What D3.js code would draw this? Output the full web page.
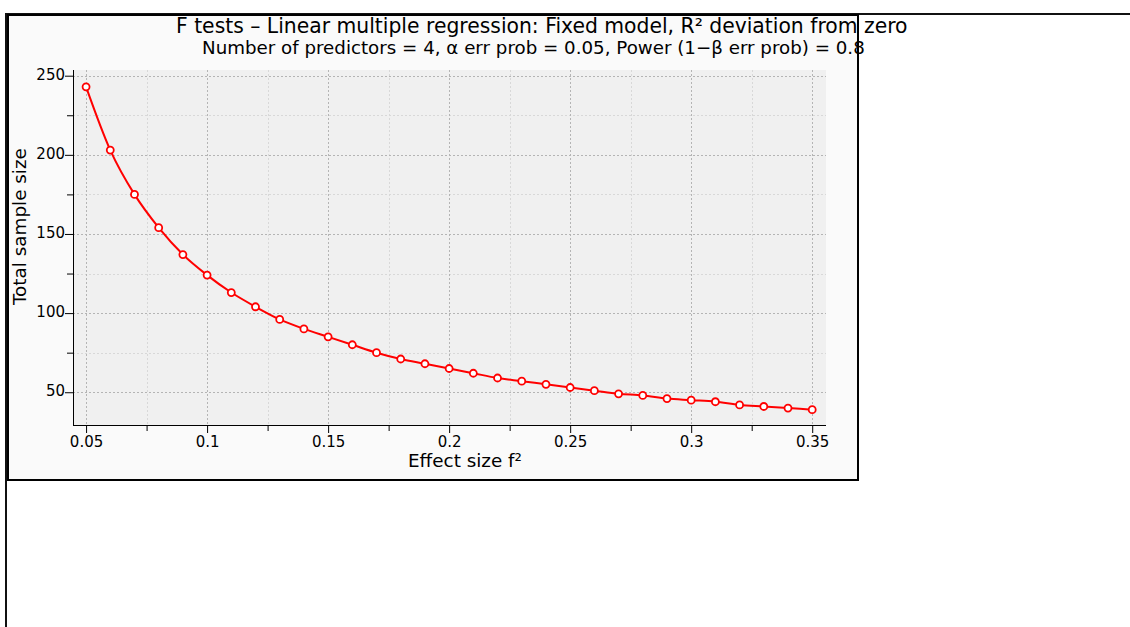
<!DOCTYPE html>
<html>
<head>
<meta charset="utf-8">
<script src="https://cdn.jsdelivr.net/npm/d3@7"></script>
<style>
  body { margin: 0; background: #fff; }
  text { font-family: "Lucida Grande", "DejaVu Sans", sans-serif; fill: #000; }
</style>
</head>
<body>
<div id="chart"></div>
<script>
var effectSizes = [0.05, 0.06, 0.07, 0.08, 0.09, 0.10, 0.11, 0.12, 0.13, 0.14,
                   0.15, 0.16, 0.17, 0.18, 0.19, 0.20, 0.21, 0.22, 0.23, 0.24,
                   0.25, 0.26, 0.27, 0.28, 0.29, 0.30, 0.31, 0.32, 0.33, 0.34, 0.35];
var sampleSizes = [243, 203, 175, 154, 137, 124, 113, 104, 96, 90,
                   85, 80, 75, 71, 68, 65, 62, 59, 57, 55,
                   53, 51, 49, 48, 46, 45, 44, 42, 41, 40, 39];

var xMajor = [0.05, 0.1, 0.15, 0.2, 0.25, 0.3, 0.35],
    xMinor = [0.075, 0.125, 0.175, 0.225, 0.275, 0.325];
var yMajor = [50, 100, 150, 200, 250],
    yMinor = [75, 125, 175, 225];

var titleText = 'F tests \u2013 Linear multiple regression: Fixed model, R\u00b2 deviation from zero',
    subtitleText = 'Number of predictors = 4, \u03b1 err prob = 0.05, Power (1\u2212\u03b2 err prob) = 0.8',
    xLabel = 'Effect size f\u00b2',
    yLabel = 'Total sample size';

var width = 1130,
    height = 627;

var plot = {left: 73, right: 826, top: 70, bottom: 425};

var svg = d3.select('#chart')
    .append('svg')
    .attr('width', width)
    .attr('height', height);

// outer frame (runs off the page)
svg.append('path')
    .attr('d', 'M 6 ' + height + ' V 14 H ' + width)
    .attr('fill', 'none')
    .attr('stroke', '#111')
    .attr('stroke-width', 2);

// chart box
svg.append('rect')
    .attr('x', 8)
    .attr('y', 15)
    .attr('width', 850)
    .attr('height', 465)
    .attr('fill', '#fafafa')
    .attr('stroke', '#000')
    .attr('stroke-width', 2);

var x = d3.scaleLinear()
    .domain([0.0446, 0.3557])
    .range([plot.left, plot.right]);

var y = d3.scaleLinear()
    .domain([29.3, 253.6])
    .range([plot.bottom, plot.top]);

// plot background
svg.append('rect')
    .attr('x', plot.left)
    .attr('y', plot.top)
    .attr('width', plot.right - plot.left)
    .attr('height', plot.bottom - plot.top)
    .attr('fill', '#f0f0f0');

// grid
var grid = svg.append('g');
function vGrid(vals, color) {
    grid.selectAll(null).data(vals).enter().append('line')
        .attr('x1', function (d) { return Math.round(x(d)) + 0.5; })
        .attr('x2', function (d) { return Math.round(x(d)) + 0.5; })
        .attr('y1', plot.top)
        .attr('y2', plot.bottom)
        .attr('stroke', color)
        .attr('stroke-dasharray', '2,2');
}
function hGrid(vals, color) {
    grid.selectAll(null).data(vals).enter().append('line')
        .attr('y1', function (d) { return Math.round(y(d)) + 0.5; })
        .attr('y2', function (d) { return Math.round(y(d)) + 0.5; })
        .attr('x1', plot.left)
        .attr('x2', plot.right)
        .attr('stroke', color)
        .attr('stroke-dasharray', '2,2');
}
vGrid(xMinor, '#d8d8d8');
hGrid(yMinor, '#d8d8d8');
vGrid(xMajor, '#b4b4b4');
hGrid(yMajor, '#b4b4b4');

// axes
var xAxis = svg.append('g')
    .attr('transform', 'translate(0,' + plot.bottom + ')')
    .call(d3.axisBottom(x).tickValues(xMajor).tickSize(8).tickPadding(3)
        .tickFormat(function (d) { return String(d); }));
svg.append('g')
    .attr('transform', 'translate(0,' + plot.bottom + ')')
    .call(d3.axisBottom(x).tickValues(xMinor).tickSize(6).tickFormat(''));

var yAxis = svg.append('g')
    .attr('transform', 'translate(' + plot.left + ',0)')
    .call(d3.axisLeft(y).tickValues(yMajor).tickSize(8).tickPadding(0));
svg.append('g')
    .attr('transform', 'translate(' + plot.left + ',0)')
    .call(d3.axisLeft(y).tickValues(yMinor).tickSize(6).tickFormat(''));

svg.selectAll('.domain').remove();
svg.selectAll('.tick line').attr('stroke', '#000');
svg.selectAll('.tick text')
    .style('font-family', '"Lucida Grande", "DejaVu Sans", sans-serif')
    .style('font-size', '15px')
    .attr('fill', '#000');
yAxis.selectAll('.tick text').attr('dy', '0.25em');

svg.append('line')
    .attr('x1', plot.left + 0.5).attr('x2', plot.left + 0.5)
    .attr('y1', plot.top).attr('y2', plot.bottom + 0.5)
    .attr('stroke', '#000');
svg.append('line')
    .attr('x1', plot.left).attr('x2', plot.right)
    .attr('y1', plot.bottom + 0.5).attr('y2', plot.bottom + 0.5)
    .attr('stroke', '#000');

// curve
var line = d3.line()
    .x(function (d, i) { return x(effectSizes[i]); })
    .y(function (d) { return y(d); })
    .curve(d3.curveMonotoneX);

svg.append('path')
    .datum(sampleSizes)
    .attr('d', line)
    .attr('fill', 'none')
    .attr('stroke', '#ff0000')
    .attr('stroke-width', 2);

svg.selectAll('.pt')
    .data(sampleSizes)
    .enter().append('circle')
    .attr('class', 'pt')
    .attr('cx', function (d, i) { return x(effectSizes[i]); })
    .attr('cy', function (d) { return y(d); })
    .attr('r', 3.5)
    .attr('fill', '#fff')
    .attr('stroke', '#ff0000')
    .attr('stroke-width', 1.8);

// texts, sized to the widths in the picture
function fitText(sel, target, base) {
    sel.style('font-size', base + 'px');
    var w = sel.node().getComputedTextLength();
    if (w > 0) sel.style('font-size', (base * target / w).toFixed(2) + 'px');
}

var title = svg.append('text')
    .attr('x', 176).attr('y', 33)
    .text(titleText);
fitText(title, 732, 18);

var subtitle = svg.append('text')
    .attr('x', 202).attr('y', 54)
    .text(subtitleText);
fitText(subtitle, 663, 16.5);

var xl = svg.append('text')
    .attr('x', 408).attr('y', 467)
    .text(xLabel);
fitText(xl, 114, 16);

var yl = svg.append('text')
    .attr('transform', 'translate(26,305) rotate(-90)')
    .text(yLabel);
fitText(yl, 157, 16);
</script>
</body>
</html>
